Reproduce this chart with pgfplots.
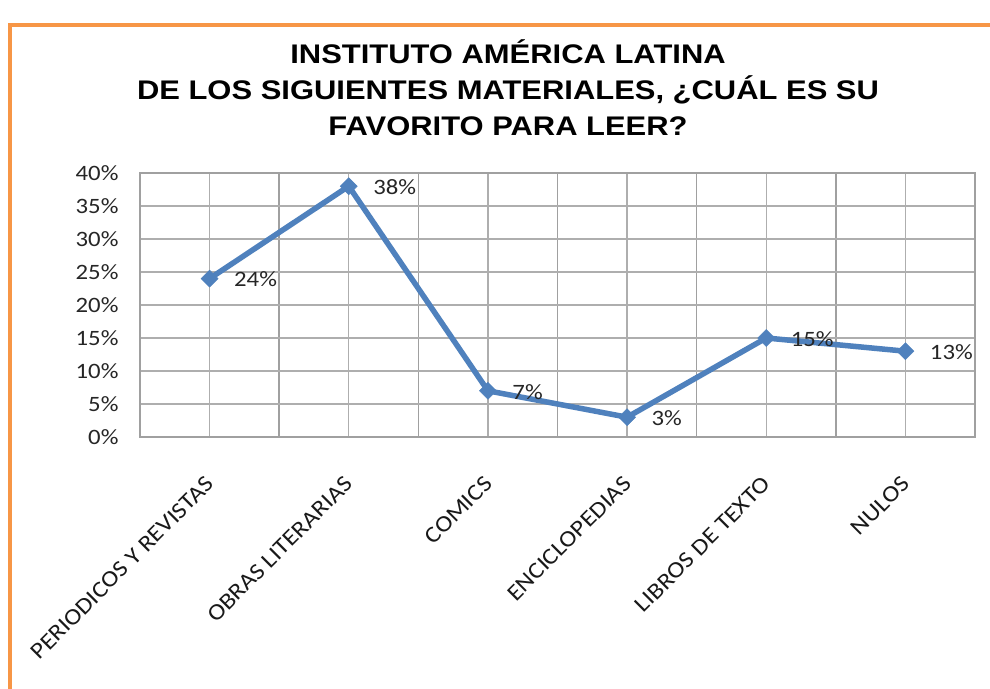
\documentclass[border=0pt]{standalone}
\usepackage{pgfplots}
\pgfplotsset{compat=1.18}
\usepackage{fontspec}
\setmainfont{Carlito}
\newfontfamily\titlefont[FakeStretch=1.15]{Liberation Sans}
\newfontfamily\lblfont[FakeStretch=1.13]{Carlito}
\newfontfamily\catfont[FakeStretch=1.12]{Carlito}
\definecolor{frameorange}{HTML}{F79646}
\definecolor{serblue}{HTML}{4F81BD}
\definecolor{gridgray}{HTML}{A0A0A0}
\begin{document}
\begin{tikzpicture}
\useasboundingbox (0bp,0bp) rectangle (990bp,689bp);
\fill[white] (0bp,0bp) rectangle (990bp,689bp);
\draw[frameorange, line width=3.5bp] (10bp,-5bp) -- (10bp,664bp) -- (995bp,664bp);
\node[font=\titlefont\bfseries\fontsize{27}{36}\selectfont, align=center] at (508bp,601bp)
  {INSTITUTO AMÉRICA LATINA\\DE LOS SIGUIENTES MATERIALES, ¿CUÁL ES SU\\FAVORITO PARA LEER?};
\begin{axis}[
  at={(140bp,252bp)}, anchor=south west,
  scale only axis, width=835bp, height=264bp,
  xmin=-0.5, xmax=5.5, ymin=0, ymax=40,
  xtick={0,1,2,3,4,5},
  xticklabels={PERIODICOS Y REVISTAS,OBRAS LITERARIAS,COMICS,ENCICLOPEDIAS,LIBROS DE TEXTO,NULOS},
  minor xtick={-0.5,0.5,1.5,2.5,3.5,4.5,5.5},
  ytick={0,5,10,15,20,25,30,35,40},
  yticklabels={0\%,5\%,10\%,15\%,20\%,25\%,30\%,35\%,40\%},
  grid=both,
  major grid style={gridgray!85, line width=1.3bp},
  minor grid style={gridgray, line width=1.5bp},
  axis line style={gridgray, line width=1.5bp},
  major tick length=0pt, minor tick length=0pt,
  tick style={draw=none},
  yticklabel style={font=\lblfont\fontsize{22}{24}\selectfont, color=black!85, xshift=-18bp},
  xticklabel style={font=\catfont\fontsize{23}{26}\selectfont, color=black!90, xshift=-5bp, yshift=-33bp, rotate=45, anchor=north east},
  clip=false,
]
\addplot[color=serblue, line width=5.5bp, mark=square*, mark size=6bp,
  mark options={rotate=45, solid, fill=serblue, draw=serblue, line width=0.5bp},
  nodes near coords={\pgfmathprintnumber[assume math mode=true]{\pgfplotspointmeta}\%},
  every node near coord/.append style={anchor=west, xshift=21bp, yshift=-1bp, color=black!85, font=\lblfont\fontsize{22}{24}\selectfont},
] coordinates {(0,24) (1,38) (2,7) (3,3) (4,15) (5,13)};
\end{axis}
\end{tikzpicture}
\end{document}
